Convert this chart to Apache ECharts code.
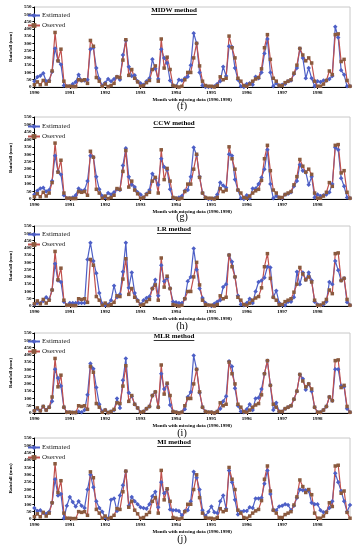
<!DOCTYPE html>
<html><head><meta charset="utf-8">
<script src="https://cdn.jsdelivr.net/npm/echarts@6/dist/echarts.min.js"></script>
<style>html,body{margin:0;padding:0;background:#fff}#c{width:364px;height:550px}</style>
</head><body><div id="c"></div>
<script>
// ---------- DATA ----------
const years = ['1990','1991','1992','1993','1994','1995','1996','1997','1998'];
const monthsPerYear = 12;
const yAxisMax = 550;
const yAxisStep = 50;

const obsRain = [
  15, 35, 15, 45, 20, 40, 110, 375, 180, 260, 40, 5,
  5, 3, 3, 50, 45, 50, 25, 320, 280, 65, 40, 5,
  20, 3, 10, 25, 70, 65, 185, 325, 80, 120, 60, 35,
  5, 10, 30, 45, 120, 145, 40, 330, 130, 205, 120, 10,
  5, 0, 5, 50, 100, 100, 200, 300, 145, 40, 10, 5,
  5, 0, 10, 70, 50, 60, 350, 270, 200, 60, 40, 10,
  5, 20, 40, 55, 65, 125, 270, 360, 190, 60, 40, 10,
  10, 30, 40, 50, 95, 150, 265, 220, 180, 200, 165, 40,
  5, 5, 20, 45, 110, 85, 360, 365, 175, 190, 45, 5
];
const estMIDW = [
  40, 68, 77, 95, 40, 45, 105, 265, 180, 155, 10, 5,
  5, 20, 35, 85, 45, 45, 50, 260, 270, 130, 55, 10,
  30, 55, 40, 55, 70, 50, 220, 320, 140, 75, 80, 40,
  25, 15, 40, 60, 190, 125, 55, 260, 200, 165, 45, 10,
  5, 50, 45, 60, 70, 150, 370, 300, 100, 10, 0, 0,
  0, 5, 20, 40, 140, 75, 280, 275, 130, 50, 5, 0,
  20, 25, 15, 70, 60, 100, 230, 330, 100, 5, 25, 10,
  15, 20, 40, 45, 90, 130, 265, 200, 60, 130, 60, 5,
  40, 35, 45, 45, 55, 75, 415, 340, 115, 85, 5, 5
];
const estCCW = [
  30, 55, 70, 75, 50, 60, 120, 290, 185, 165, 25, 5,
  5, 10, 25, 70, 55, 60, 120, 290, 280, 150, 65, 20,
  10, 40, 30, 45, 65, 60, 225, 340, 150, 95, 80, 45,
  30, 10, 35, 60, 170, 140, 95, 270, 215, 195, 65, 5,
  5, 10, 20, 55, 60, 150, 345, 295, 150, 40, 10, 0,
  0, 5, 30, 110, 90, 75, 300, 290, 130, 60, 5, 0,
  25, 5, 70, 70, 100, 145, 200, 330, 100, 5, 20, 10,
  5, 30, 35, 45, 85, 120, 230, 190, 180, 95, 150, 10,
  30, 20, 25, 30, 45, 100, 345, 330, 140, 85, 10, 5
];
const estLR = [
  10, 20, 20, 35, 60, 45, 110, 290, 175, 165, 30, 5,
  20, 20, 20, 20, 20, 20, 320, 435, 310, 225, 90, 15,
  5, 10, 40, 140, 60, 80, 235, 435, 125, 230, 90, 40,
  10, 40, 55, 65, 120, 180, 70, 280, 170, 195, 120, 30,
  25, 20, 20, 50, 170, 200, 395, 250, 120, 55, 20, 5,
  0, 15, 30, 40, 130, 150, 350, 305, 200, 70, 10, 5,
  20, 50, 20, 100, 165, 175, 195, 270, 265, 60, 105, 20,
  5, 5, 30, 30, 60, 235, 150, 230, 180, 230, 175, 30,
  10, 5, 10, 30, 165, 150, 310, 245, 175, 190, 25, 5
];
const estMLR = [
  15, 30, 15, 45, 20, 40, 80, 300, 240, 185, 40, 5,
  5, 3, 3, 10, 5, 20, 125, 340, 305, 175, 60, 10,
  20, 3, 10, 20, 100, 35, 225, 375, 140, 115, 60, 35,
  5, 10, 30, 45, 120, 145, 40, 270, 165, 200, 55, 10,
  5, 0, 5, 25, 110, 145, 395, 300, 140, 40, 10, 5,
  5, 0, 10, 30, 80, 115, 355, 320, 170, 50, 10, 5,
  25, 60, 20, 100, 105, 165, 270, 360, 190, 20, 70, 10,
  10, 30, 40, 50, 95, 150, 265, 235, 160, 200, 150, 40,
  5, 5, 20, 45, 110, 85, 300, 300, 185, 180, 30, 5
];
const estMI = [
  75, 55, 60, 40, 35, 50, 110, 270, 160, 170, 5, 90,
  150, 115, 85, 120, 90, 75, 200, 300, 215, 120, 75, 50,
  10, 0, 130, 140, 55, 160, 230, 325, 90, 150, 120, 100,
  80, 75, 70, 100, 155, 185, 80, 250, 175, 200, 65, 60,
  60, 55, 25, 55, 60, 120, 320, 280, 200, 60, 20, 50,
  85, 45, 40, 120, 160, 70, 330, 250, 130, 30, 50, 55,
  55, 80, 75, 140, 140, 145, 240, 330, 170, 60, 60, 85,
  90, 100, 95, 60, 90, 145, 200, 195, 195, 190, 110, 100,
  100, 60, 45, 50, 75, 120, 310, 250, 190, 120, 50, 95
];
const methodTitles = ['MIDW method', 'CCW method', 'LR method', 'MLR method', 'MI method'];
const panelCaptions = ['(f)', '(g)', '(h)', '(i)', '(j)'];
const seriesNames = ['Estimated', 'Oserved'];
const xAxisTitle = 'Month with missing data (1990-1998)';
const yAxisTitle = 'Rainfall (mm)';

// ---------- LAYOUT ----------
const estimates = [estMIDW, estCCW, estLR, estMLR, estMI];
const panels = [
  {top: 7,   h: 80, leg: 12,  titleY: 11,  capY: 107},
  {top: 117, h: 82, leg: 123, titleY: 124, capY: 218},
  {top: 226, h: 80, leg: 231, titleY: 230, capY: 327},
  {top: 333, h: 80, leg: 338, titleY: 337, capY: 434},
  {top: 438, h: 81, leg: 444, titleY: 443, capY: 540}
];
const categories = [];
years.forEach(y => { for (let m = 1; m <= monthsPerYear; m++) categories.push(y + '-' + m); });
const isYearStart = (idx) => idx % monthsPerYear === 0;

const serif = 'Liberation Serif';
const blue = '#4d5fc6';
const redLine = '#c0504d';
const brown = '#8a5a3e';
const gridLeft = 21, gridRight = 14;

const chart = echarts.init(document.getElementById('c'), null, {renderer: 'canvas'});

const mctx = document.createElement('canvas').getContext('2d');
function textW(t, font) { mctx.font = font; return mctx.measureText(t).width; }

const graphics = [];
panels.forEach((p, i) => {
  const tFont = 'bold 7px "' + serif + '"';
  const cx = 174;
  const w = textW(methodTitles[i], tFont);
  graphics.push({type: 'text', left: cx - w / 2, top: p.titleY - 4, style: {text: methodTitles[i], font: tFont, fill: '#000'}});
  graphics.push({type: 'line', shape: {x1: cx - w / 2, y1: p.titleY + 3.5, x2: cx + w / 2, y2: p.titleY + 3.5}, style: {stroke: '#000', lineWidth: 0.8}});
  const capFont = '10px "' + serif + '"';
  const cw = textW(panelCaptions[i], capFont);
  graphics.push({type: 'text', left: 182 - cw / 2, top: p.capY - 5.5, style: {text: panelCaptions[i], font: capFont, fill: '#000'}});
});

const option = {
  animation: false,
  backgroundColor: '#fff',
  legend: panels.map((p) => ({
    orient: 'vertical', left: 27, top: p.leg, itemWidth: 12, itemHeight: 6, itemGap: 3,
    data: seriesNames,
    textStyle: {fontFamily: serif, fontSize: 7, color: '#222', padding: [0, 0, 0, -3]},
    padding: 0
  })),
  grid: panels.map(p => ({left: gridLeft, right: gridRight, top: p.top, height: p.h, show: true, borderColor: '#c8c8c8', borderWidth: 1})),
  xAxis: panels.map((p, i) => ({
    type: 'category', gridIndex: i, data: categories, boundaryGap: false,
    axisLine: {lineStyle: {color: '#000', width: 1}},
    axisTick: {interval: isYearStart, length: 2, lineStyle: {color: '#000'}},
    axisLabel: {interval: isYearStart, formatter: v => v.slice(0, 4), fontSize: 5, fontWeight: 'bold', fontFamily: serif, color: '#000', margin: 3},
    splitLine: {show: false},
    name: xAxisTitle, nameLocation: 'middle', nameGap: 10,
    nameTextStyle: {fontSize: 5, fontWeight: 'bold', fontFamily: serif, color: '#000'}
  })),
  yAxis: panels.map((p, i) => ({
    type: 'value', gridIndex: i, min: 0, max: yAxisMax, interval: yAxisStep,
    axisLine: {show: true, lineStyle: {color: '#000', width: 1}},
    axisTick: {show: true, length: 2, lineStyle: {color: '#000'}},
    axisLabel: {fontSize: 5, fontWeight: 'bold', fontFamily: serif, color: '#000', margin: 3},
    splitLine: {show: false},
    name: yAxisTitle, nameLocation: 'middle', nameGap: 12, nameRotate: 90,
    nameTextStyle: {fontSize: 5, fontWeight: 'bold', fontFamily: serif, color: '#000'}
  })),
  series: panels.flatMap((p, i) => ([
    {type: 'line', name: seriesNames[0], xAxisIndex: i, yAxisIndex: i, data: estimates[i],
     symbol: 'diamond', symbolSize: 4.5, showAllSymbol: true,
     lineStyle: {color: blue, width: 1.2}, itemStyle: {color: blue}},
    {type: 'line', name: seriesNames[1], xAxisIndex: i, yAxisIndex: i, data: obsRain,
     symbol: 'rect', symbolSize: 3.5, showAllSymbol: true,
     lineStyle: {color: redLine, width: 1.2}, itemStyle: {color: brown}}
  ])),
  graphic: graphics
};
chart.setOption(option);
</script>
</body></html>
